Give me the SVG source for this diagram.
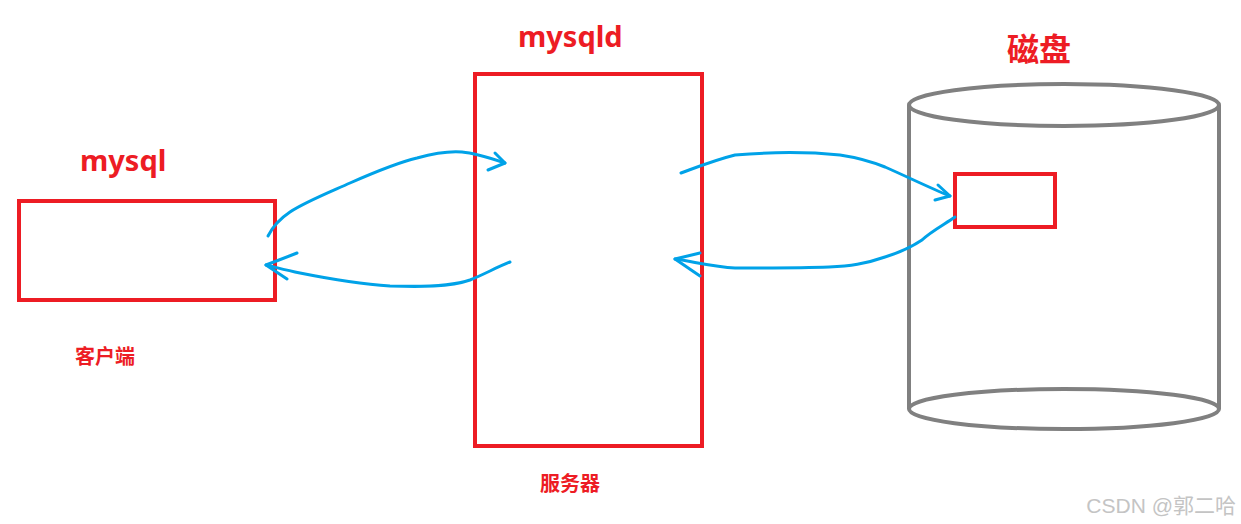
<svg xmlns="http://www.w3.org/2000/svg" width="1241" height="524" viewBox="0 0 1241 524">
<style>
.box{fill:none;stroke:#ED1C24;stroke-width:4}
.cyl{fill:none;stroke:#808080;stroke-width:4}
.lbl{fill:#ED1C24;font-family:"Noto Sans","Noto Sans CJK SC",sans-serif;font-weight:bold}
.big{font-size:29px}
.cjk{font-size:32px}
.small{font-size:20px}
.con{fill:none;stroke:#00A2E8;stroke-width:3;stroke-linecap:round;stroke-linejoin:round}
.wm{fill:#c4c4c4;font-family:"Liberation Sans","Noto Sans CJK SC",sans-serif;font-size:21px}
</style>
<rect width="1241" height="524" fill="#ffffff"/>
<g id="client">
<rect class="box" x="19" y="201" width="256" height="99"/>
<text class="lbl big" x="80" y="171">mysql</text>
<text class="lbl small" x="75" y="364">客户端</text>
</g>
<g id="server">
<rect class="box" x="475" y="74" width="227" height="372"/>
<text class="lbl big" x="518" y="47">mysqld</text>
<text class="lbl small" x="540" y="491">服务器</text>
</g>
<g id="disk">
<path class="cyl" d="M909,105 L909,409 M1219,105 L1219,409"/>
<ellipse class="cyl" cx="1064" cy="105" rx="155" ry="21"/>
<ellipse class="cyl" cx="1064" cy="409" rx="155" ry="20"/>
<rect class="box" x="955" y="174" width="100" height="53"/>
<text class="lbl cjk" x="1007" y="61">磁盘</text>
</g>
<g id="connectors">
<path class="con" d="M268,236 C272,228 278,220 290,212 C305,202 330,192 350,183 C375,172 400,162 417,158 C435,153 450,151 462,152 C475,153 490,158 505,163"/>
<path class="con" d="M495,153 L505,163 L488,170"/>
<path class="con" d="M510,262 C495,268 485,274 470,280 C450,287 420,287 390,286 C360,284 320,277 300,273 C285,270 275,267 266,265"/>
<path class="con" d="M297,253 L266,265 L287,279"/>
<path class="con" d="M681,173 C700,166 715,160 735,155 C770,152 810,152 840,155 C860,158 875,163 885,167 C910,178 930,188 950,196"/>
<path class="con" d="M938,185 L950,196 L935,200"/>
<path class="con" d="M955,217 C945,224 930,232 922,240 C910,248 898,253 885,257 C865,264 850,266 829,267 C800,268 760,268 735,268 C715,267 695,262 675,259"/>
<path class="con" d="M700,253 L675,259 L700,276"/>
</g>
<text class="wm" x="1236" y="513" text-anchor="end">CSDN @郭二哈</text>
</svg>
